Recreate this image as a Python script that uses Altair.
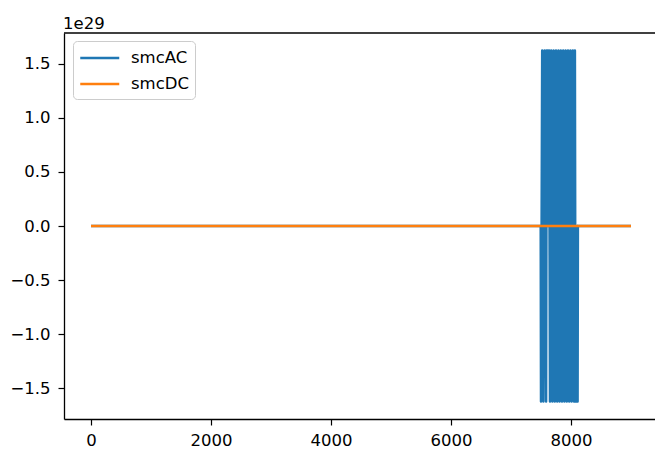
import altair as alt
import pandas as pd

# ---- data (y values in units of 1e29) ----
series_names = ["smcAC", "smcDC"]
colors = ["#1f77b4", "#ff7f0e"]

ac_x = [0, 7495, 7500, 7520, 7540, 7560, 7585, 7595, 7605, 7615, 7625, 7635,
        7650, 7670, 7690, 7710, 7730, 7750, 7770, 7790, 7810, 7830, 7850,
        7870, 7890, 7910, 7930, 7950, 7970, 7990, 8010, 8030, 8050,
        8065, 8075, 8085, 8095, 8105, 8110, 8115, 9000]
ac_y = [0, 0, -1.62, 1.62, -1.62, 1.62, -1.62, 1.62, 0, 1.62, 0, 1.62,
        -1.62, 1.62, -1.62, 1.62, -1.62, 1.62, -1.62, 1.62, -1.62, 1.62, -1.62,
        1.62, -1.62, 1.62, -1.62, 1.62, -1.62, 1.62, -1.62, 1.62, -1.62,
        1.62, -1.62, 0, -1.62, 0, -1.62, 0, 0]

dc_x = [0, 9000]
dc_y = [0, 0]

y_scale_exp = 1e29
x_ticks = [0, 2000, 4000, 6000, 8000]
y_ticks = [-1.5, -1.0, -0.5, 0.0, 0.5, 1.0, 1.5]
x_domain = [-450, 9400]
y_domain = [-1.782, 1.782]

rows = []
for i, (x, y) in enumerate(zip(ac_x, ac_y)):
    rows.append({"x": x, "y": y * y_scale_exp, "series": "smcAC", "order": i})
for i, (x, y) in enumerate(zip(dc_x, dc_y)):
    rows.append({"x": x, "y": y * y_scale_exp, "series": "smcDC", "order": i})
df = pd.DataFrame(rows)

FONT = "DejaVu Sans"
FS = 16.5

W, H = 591, 386

lines = alt.Chart(df).mark_line(strokeWidth=2.5, strokeJoin="round", clip=True).encode(
    x=alt.X("x:Q", scale=alt.Scale(domain=x_domain, nice=False, zero=False),
            axis=alt.Axis(values=x_ticks, title=None, grid=False, format="d",
                          labelFont=FONT, labelFontSize=FS, labelColor="black",
                          tickColor="black", tickSize=6, tickWidth=1.2,
                          domainColor="black", domainWidth=1.3, labelPadding=7,
                          labelFlush=False)),
    y=alt.Y("y:Q", scale=alt.Scale(domain=[v * y_scale_exp for v in y_domain], nice=False, zero=False),
            axis=alt.Axis(values=[v * y_scale_exp for v in y_ticks], title=None, grid=False,
                          labelExpr="format(datum.value/1e29, '.1f')",
                          labelFont=FONT, labelFontSize=FS, labelColor="black",
                          tickColor="black", tickSize=6, tickWidth=1.2,
                          domainColor="black", domainWidth=1.3, labelPadding=8,
                          labelFlush=False)),
    color=alt.Color("series:N", scale=alt.Scale(domain=series_names, range=colors),
                    legend=alt.Legend(title=None, orient="none", legendX=9, legendY=8,
                                      symbolType="M-1,0H3", symbolSize=380,
                                      symbolStrokeWidth=2.5,
                                      labelFont=FONT, labelFontSize=FS, labelColor="black",
                                      strokeColor="#cccccc", fillColor="white",
                                      cornerRadius=4, padding=6, rowPadding=6,
                                      labelOffset=30)),
    detail="series:N",
    order="order:Q",
)

top_spine = alt.Chart().mark_rule(color="black", strokeWidth=1.3).encode(
    x=alt.value(0), x2=alt.value(W), y=alt.value(0)
)

offset_text = alt.Chart().mark_text(
    text="1e29", font=FONT, fontSize=FS, color="black", align="left", baseline="alphabetic"
).encode(x=alt.value(-1), y=alt.value(-4))

chart = alt.layer(lines, top_spine, offset_text).properties(
    width=W, height=H,
    autosize=alt.AutoSizeParams(type="none"),
    padding={"left": 64, "top": 33, "right": 0, "bottom": 34},
    background="white",
).configure_view(strokeWidth=0)

chart.save("out.html", embed_options={"renderer": "svg", "actions": False})
